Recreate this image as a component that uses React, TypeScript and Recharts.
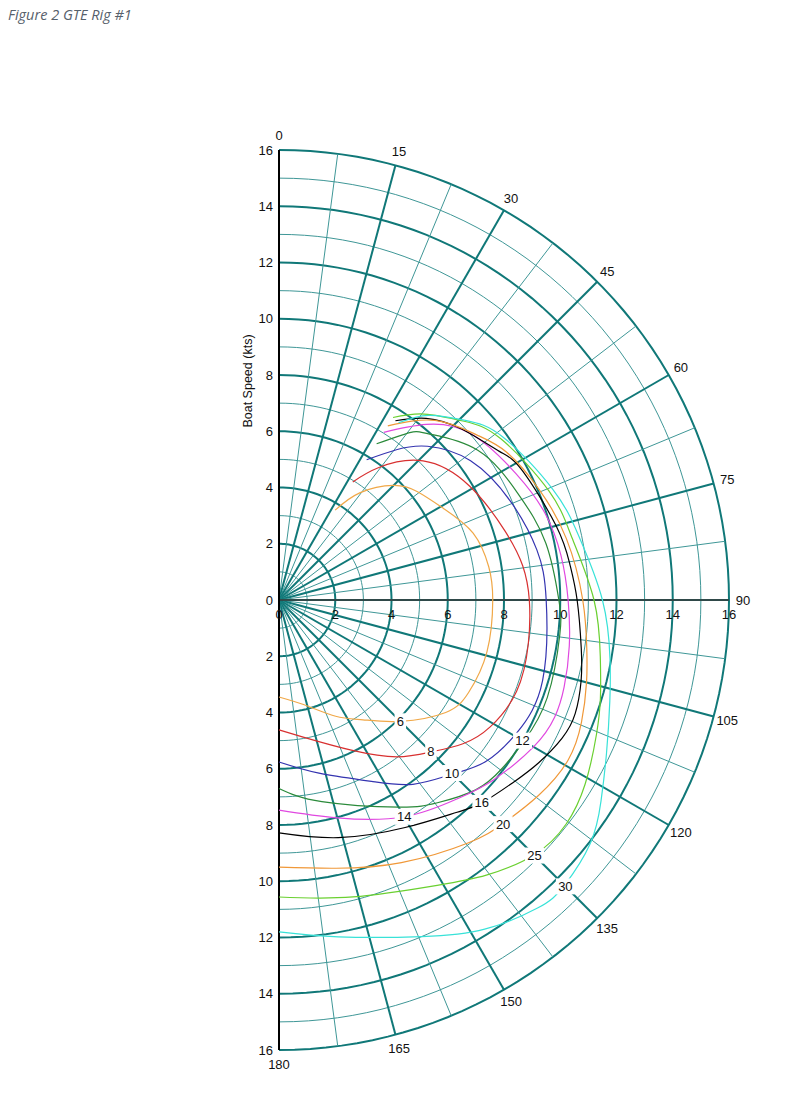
import { ScatterChart, Scatter, XAxis, YAxis } from 'recharts'

// polar diagram: boat speed (kts) vs true wind angle (deg), one curve per true wind speed
const w6: [number, number][] = [[32, 3.77], [37, 4.77], [45, 5.76], [52, 6.25], [61, 6.7], [71, 7.3], [81, 7.55], [90, 7.6], [104, 7.62], [116, 7.5], [124, 7.15], [135, 6.1], [145, 5.2], [154, 4.6], [165, 3.9], [180, 3.45]]
const w8: [number, number][] = [[32, 4.95], [37, 5.9], [46, 7.12], [59, 7.89], [73, 8.4], [82, 8.75], [90, 8.9], [100, 9.0], [111, 9.05], [121, 8.76], [128, 8.3], [135, 7.64], [143, 6.98], [154, 5.95], [170, 4.95], [180, 4.62]]
const w10: [number, number][] = [[32, 5.88], [38, 6.78], [44, 7.6], [54, 8.42], [67, 8.95], [79, 9.34], [90, 9.5], [107, 9.8], [119, 9.69], [128, 9.33], [135, 8.75], [144, 8.1], [153, 7.24], [167, 6.32], [180, 5.76]]
const w12: [number, number][] = [[32, 6.55], [38, 7.55], [42, 7.95], [53, 8.85], [66, 9.3], [78, 9.7], [90, 9.95], [97, 10.06], [110, 10.15], [120, 10.05], [127, 9.94], [134, 9.72], [142, 9.15], [150, 8.5], [168, 7.33], [180, 6.7]]
const w14: [number, number][] = [[32, 7.03], [40, 8.15], [49, 9.02], [62, 9.55], [72, 9.95], [81, 10.15], [90, 10.28], [99, 10.45], [107, 10.6], [113, 10.65], [120, 10.45], [130, 9.95], [138, 9.5], [150, 8.9], [165, 8.02], [180, 7.47]]
const w16: [number, number][] = [[33, 7.6], [39, 8.31], [47, 8.9], [56, 9.45], [62, 9.8], [75, 10.2], [83, 10.42], [90, 10.6], [99, 10.88], [105, 11.12], [111, 11.28], [116, 11.2], [122, 10.9], [128, 10.55], [135, 10.2], [140, 9.85], [151, 9.25], [166, 8.71], [180, 8.28]]
const w20: [number, number][] = [[32, 7.3], [41, 8.46], [50, 9.15], [57, 9.65], [67, 10.05], [78, 10.45], [90, 10.8], [99, 11.08], [105, 11.32], [112, 11.6], [119, 11.75], [127, 11.55], [135, 11.25], [142, 10.95], [155, 10.3], [168, 9.75], [180, 9.5]]
const w25: [number, number][] = [[32, 7.65], [38, 8.39], [46, 9.15], [54, 9.75], [68, 10.35], [78, 10.65], [90, 11.2], [100, 11.6], [107, 11.95], [113, 12.26], [121, 12.7], [128, 12.95], [135, 12.82], [143, 12.25], [151, 11.6], [166, 10.88], [180, 10.56]]
const w30: [number, number][] = [[34, 7.6], [39, 8.45], [46, 9.2], [54, 9.85], [68, 10.5], [78, 10.9], [90, 11.5], [100, 11.95], [107, 12.3], [115, 12.85], [122, 13.5], [128, 14.05], [135, 14.35], [140, 14.3], [148, 13.8], [157, 13.0], [170, 12.16], [180, 11.8]]

const windSpeeds = ['6', '8', '10', '12', '14', '16', '20', '25', '30']
const windColors = ['#f0a848', '#d83030', '#3434b0', '#2a8a3a', '#e048e0', '#000000', '#f09838', '#6ad030', '#38e2d8']
const windCurves = [w6, w8, w10, w12, w14, w16, w20, w25, w30]

// where each wind speed label sits: [angle, boat speed]
const windLabelPos: [number, number][] = [[135, 6.1], [135, 7.64], [135, 8.7], [120, 10.0], [150, 8.9], [135, 10.2], [135, 11.27], [135, 12.85], [135, 14.4]]

const speedTicks = [16, 14, 12, 10, 8, 6, 4, 2, 0, -2, -4, -6, -8, -10, -12, -14, -16]
const xTicks = [0, 2, 4, 6, 8, 10, 12, 14, 16]
const angleTicks = [0, 15, 30, 45, 60, 75, 90, 105, 120, 135, 150, 165, 180]

const PX_PER_KT = 28.125
const CX = 279
const CY = 600
const W = 800
const H = 1101
const MAX_R = 16

const rad = (d: number) => (d * Math.PI) / 180
const toXY = (deg: number, r: number) => ({ x: r * Math.sin(rad(deg)), y: r * Math.cos(rad(deg)) })

const FONT = '"Liberation Sans", Arial, sans-serif'
const GRID_DARK = '#107878'
const GRID_LIGHT = '#3f9797'

const noDot = () => <g />

function arcPoints(r: number) {
  const pts = []
  for (let d = 0; d <= 180; d += 2) pts.push(toXY(d, r))
  return pts
}

const TickLabelLeft = (p: any) => (
  <text x={p.cx - 6} y={p.cy + 4.5} textAnchor="end" fontSize={13} fontFamily={FONT} fill="#111">{p.payload.label}</text>
)
const TickLabelBelow = (p: any) => (
  <text x={p.cx} y={p.cy + 19} textAnchor="middle" fontSize={13} fontFamily={FONT} fill="#111">{p.payload.label}</text>
)
const AngleLabel = (p: any) => (
  <text x={p.cx} y={p.cy + 4.5} textAnchor="middle" fontSize={13} fontFamily={FONT} fill="#111">{p.payload.label}</text>
)
const WindLabel = (p: any) => {
  const w = p.payload.label.length * 7.5 + 4
  return (
    <g>
      <rect x={p.cx - w / 2} y={p.cy - 8} width={w} height={16} fill="#fff" />
      <text x={p.cx} y={p.cy + 4.5} textAnchor="middle" fontSize={13} fontFamily={FONT} fill="#111">{p.payload.label}</text>
    </g>
  )
}
const AxisTitle = (p: any) => (
  <text x={p.cx} y={p.cy} transform={`rotate(-90 ${p.cx} ${p.cy})`} textAnchor="middle" dominantBaseline="central" fontSize={12.5} fontFamily={FONT} fill="#111">{p.payload.label}</text>
)

export default function App() {
  const circles = []
  for (let r = 1; r <= MAX_R; r++) circles.push(r)
  const spokes = []
  for (let a = 0; a <= 180; a += 7.5) spokes.push(a)

  const curves = windCurves.map((c, i) => ({
    name: windSpeeds[i],
    color: windColors[i],
    data: c.map(([a, s]) => toXY(a, s)),
  }))

  const yLabels = speedTicks.map((v) => ({ x: 0, y: v, label: String(Math.abs(v)) }))
  const xLabels = xTicks.map((v) => ({ x: v, y: 0, label: String(v) }))
  const aLabels = angleTicks.map((a) => ({ ...toXY(a, 16.5), label: String(a) }))
  const wLabels = windLabelPos.map(([a, s], i) => ({ ...toXY(a, s), label: windSpeeds[i] }))
  const title = [{ x: (248 - CX) / PX_PER_KT, y: (CY - 381) / PX_PER_KT, label: 'Boat Speed (kts)' }]

  return (
    <div style={{ position: 'absolute', left: 0, top: 0, width: W, height: H, background: '#fff' }}>
      <div style={{ position: 'absolute', left: 8, top: 5, fontFamily: '"Open Sans", sans-serif', fontStyle: 'italic', fontSize: 14.5, color: '#56606b' }}>
        Figure 2 GTE Rig #1
      </div>
      <ScatterChart width={W} height={H} margin={{ top: 0, right: 0, bottom: 0, left: 0 }}>
        <XAxis type="number" dataKey="x" domain={[-CX / PX_PER_KT, (W - CX) / PX_PER_KT]} hide allowDataOverflow />
        <YAxis type="number" dataKey="y" domain={[-(H - CY) / PX_PER_KT, CY / PX_PER_KT]} hide allowDataOverflow />
        {circles.map((r) => (
          <Scatter
            key={`c${r}`}
            data={arcPoints(r)}
            shape={noDot}
            line={{ stroke: r % 2 === 0 ? GRID_DARK : GRID_LIGHT, strokeWidth: r % 2 === 0 ? 2 : 1 }}
            isAnimationActive={false}
          />
        ))}
        {spokes.map((a) => (
          <Scatter
            key={`s${a}`}
            data={[{ x: 0, y: 0 }, toXY(a, MAX_R)]}
            shape={noDot}
            line={{ stroke: a % 15 === 0 ? GRID_DARK : GRID_LIGHT, strokeWidth: a % 15 === 0 ? 2 : 1 }}
            isAnimationActive={false}
          />
        ))}
        <Scatter data={[{ x: 0, y: 0 }, { x: MAX_R, y: 0 }]} shape={noDot} line={{ stroke: '#3a3a3a', strokeWidth: 1.6 }} isAnimationActive={false} />
        <Scatter data={[{ x: 0, y: MAX_R }, { x: 0, y: -MAX_R }]} shape={noDot} line={{ stroke: '#000', strokeWidth: 2 }} isAnimationActive={false} />
        {curves.map((c) => (
          <Scatter
            key={`w${c.name}`}
            name={c.name}
            data={c.data}
            shape={noDot}
            line={{ stroke: c.color, strokeWidth: 1.2 }}
            lineJointType="natural"
            isAnimationActive={false}
          />
        ))}
        <Scatter data={yLabels} shape={TickLabelLeft} isAnimationActive={false} />
        <Scatter data={xLabels} shape={TickLabelBelow} isAnimationActive={false} />
        <Scatter data={aLabels} shape={AngleLabel} isAnimationActive={false} />
        <Scatter data={wLabels} shape={WindLabel} isAnimationActive={false} />
        <Scatter data={title} shape={AxisTitle} isAnimationActive={false} />
      </ScatterChart>
    </div>
  )
}
